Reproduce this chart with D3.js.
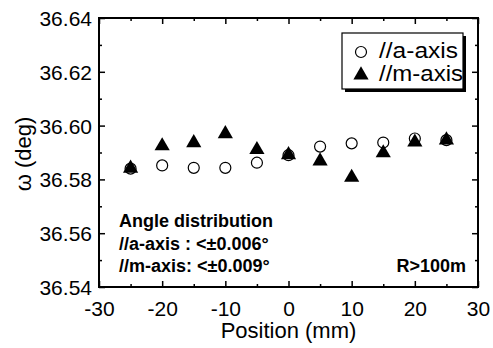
<!DOCTYPE html>
<html><head><meta charset="utf-8">
<script src="https://cdn.jsdelivr.net/npm/d3@7"></script>
<style>body{margin:0;background:#fff}svg{display:block}text{font-family:"Liberation Sans",Arial,sans-serif}</style>
</head><body>
<script>
const positions = [-25,-20,-15,-10,-5,0,5,10,15,20,25];
const aAxis = [36.5840,36.5852,36.5843,36.5843,36.5862,36.5890,36.5922,36.5934,36.5937,36.5952,36.5946];
const mAxis = [36.5845,36.5928,36.5940,36.5973,36.5914,36.5895,36.5872,36.5811,36.5902,36.5942,36.5950];
const xTicks = [-30,-20,-10,0,10,20,30];
const yTicks = [36.54,36.56,36.58,36.60,36.62,36.64];
const seriesNames = ["//a-axis","//m-axis"];
const noteLines = ["Angle distribution","//a-axis : <\u00b10.006\u00b0","//m-axis: <\u00b10.009\u00b0"];
const noteRight = "R>100m";

const W=493,H=348;
const svg=d3.select("body").append("svg").attr("width",W).attr("height",H);
const L=99,R=478,T=18,B=287;
const x=d3.scaleLinear().domain([-30,30]).range([L,R]);
const y=d3.scaleLinear().domain([36.54,36.64]).range([B,T]);

const xMinor=d3.range(-25,30,10);
const yMinor=[36.55,36.57,36.59,36.61,36.63];
const g=svg.append("g");
function axis(gen,tr,ticks,size,labels){
  const a=g.append("g").attr("transform",tr).call(gen.tickValues(ticks).tickSizeInner(-size).tickSizeOuter(0).tickFormat(labels?null:""));
  a.select(".domain").remove();
  a.selectAll("line").attr("stroke","#000").attr("stroke-width",1.5);
  return a;
}
const xb=axis(d3.axisBottom(x),`translate(0,${B})`,xTicks,6,true);
xb.selectAll("text").attr("font-size",21).attr("fill","#000").attr("dy",0).attr("y",29)
  .attr("font-family","Liberation Sans, Arial, sans-serif").text(d=>d3.format("d")(d).replace("\u2212","-"));
axis(d3.axisBottom(x),`translate(0,${B})`,xMinor,3,false);
axis(d3.axisTop(x),`translate(0,${T})`,xTicks,6,false);
axis(d3.axisTop(x),`translate(0,${T})`,xMinor,3,false);
const yl=axis(d3.axisLeft(y),`translate(${L},0)`,yTicks,6,true);
yl.selectAll("text").attr("font-size",21).attr("fill","#000").attr("x",-7).attr("dy","0.36em")
  .attr("font-family","Liberation Sans, Arial, sans-serif").text(d=>d3.format(".2f")(d));
axis(d3.axisLeft(y),`translate(${L},0)`,yMinor,3,false);
axis(d3.axisRight(y),`translate(${R},0)`,yTicks,6,false);
axis(d3.axisRight(y),`translate(${R},0)`,yMinor,3,false);

svg.append("rect").attr("x",L).attr("y",T).attr("width",R-L).attr("height",B-T).attr("fill","none").attr("stroke","#000").attr("stroke-width",2);

// axis titles
svg.append("text").attr("transform",`translate(31,${154}) rotate(-90)`).attr("text-anchor","middle").attr("font-size",22).text("\u03c9 (deg)");
svg.append("text").attr("x",(L+R)/2).attr("y",338).attr("text-anchor","middle").attr("font-size",22).text("Position (mm)");

const tri=d3.symbol().type(d3.symbolTriangle).size(100);
svg.append("g").selectAll("circle").data(positions).join("circle")
  .attr("cx",(d)=>x(d)).attr("cy",(d,i)=>y(aAxis[i])).attr("r",5.5)
  .attr("fill","none").attr("stroke","#000").attr("stroke-width",1.2);
svg.append("g").selectAll("path").data(positions).join("path")
  .attr("d",tri).attr("transform",(d,i)=>`translate(${x(d)},${y(mAxis[i])+1})`).attr("fill","#000");

// legend
const lg=svg.append("g");
lg.append("rect").attr("x",345).attr("y",36).attr("width",121).attr("height",56).attr("fill","#000");
lg.append("rect").attr("x",342).attr("y",33).attr("width",121).attr("height",56).attr("fill","#fff").attr("stroke","#000").attr("stroke-width",1.2);
lg.append("circle").attr("cx",361).attr("cy",52).attr("r",5.5).attr("fill","none").attr("stroke","#000").attr("stroke-width",1.2);
lg.append("path").attr("d",tri).attr("transform","translate(361,75)").attr("fill","#000");
const legW=[79,84];
lg.selectAll("text.l").data(seriesNames).join("text").attr("class","l").attr("x",379).attr("y",(d,i)=>58+i*23)
  .attr("font-size",22).attr("textLength",(d,i)=>legW[i]).attr("lengthAdjust","spacingAndGlyphs").text(d=>d);

// notes
svg.selectAll("text.n").data(noteLines).join("text").attr("class","n").attr("x",119).attr("y",(d,i)=>227+i*22.5)
  .attr("font-size",18).attr("font-weight","bold").text(d=>d);
svg.append("text").attr("x",466).attr("y",272).attr("text-anchor","end").attr("font-size",18).attr("font-weight","bold").text(noteRight);
</script>
</body></html>
